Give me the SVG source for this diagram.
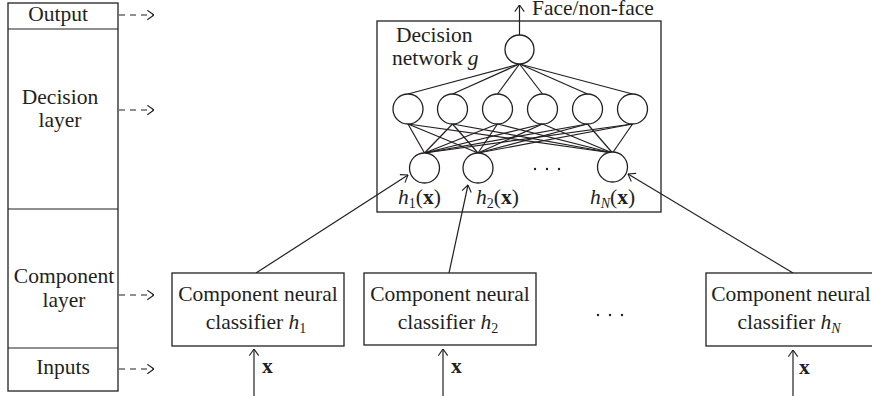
<svg xmlns="http://www.w3.org/2000/svg" width="872" height="396" viewBox="0 0 872 396">
<style>
.ln{stroke:#231f20;stroke-width:1.2;fill:none}
.nd{stroke:#231f20;stroke-width:1.3;fill:#fff}
.bx{stroke:#231f20;stroke-width:1.3;fill:#fff}
.t{font-family:"Liberation Serif","Times New Roman",serif;font-size:21.5px;fill:#231f20}
.m{text-anchor:middle}
.dash{stroke:#231f20;stroke-width:1.2;stroke-dasharray:6 5;fill:none}
.dot{fill:#231f20}
</style>
<defs>
<marker id="ah" markerUnits="userSpaceOnUse" viewBox="0 0 10 14" refX="9.5" refY="7" markerWidth="8" markerHeight="11" orient="auto">
<path d="M1,1 L9.5,7 L1,13" fill="none" stroke="#231f20" stroke-width="1.4" stroke-dasharray="none"/>
</marker>
</defs>
<rect width="872" height="396" fill="#fff"/>

<g id="layers">
<rect class="bx" x="8" y="3" width="110" height="388"/>
<line class="ln" x1="8" y1="29" x2="118" y2="29"/>
<line class="ln" x1="8" y1="209" x2="118" y2="209"/>
<line class="ln" x1="8" y1="348" x2="118" y2="348"/>
<text class="t m" x="58" y="21">Output</text>
<text class="t m" x="60" y="104">Decision</text>
<text class="t m" x="60" y="127">layer</text>
<text class="t m" x="64" y="283">Component</text>
<text class="t m" x="64" y="307">layer</text>
<text class="t m" x="63" y="374">Inputs</text>
</g>

<g id="decision-network">
<rect class="bx" x="377" y="21" width="284" height="191"/>
<text class="t" x="396" y="42">Decision</text>
<text class="t" x="392" y="65">network <tspan font-style="italic">g</tspan></text>
</g>

<g id="connectors">
<line class="dash" x1="119" y1="15" x2="154" y2="15" marker-end="url(#ah)"/>
<line class="dash" x1="119" y1="110" x2="154" y2="110" marker-end="url(#ah)"/>
<line class="dash" x1="119" y1="295" x2="154" y2="295" marker-end="url(#ah)"/>
<line class="dash" x1="119" y1="369" x2="154" y2="369" marker-end="url(#ah)"/>

<line class="ln" x1="519.5" y1="35" x2="519.5" y2="5" marker-end="url(#ah)"/>

<g id="top-edges">
<line class="ln" x1="519.5" y1="64" x2="408" y2="94"/>
<line class="ln" x1="519.5" y1="64" x2="452.5" y2="94"/>
<line class="ln" x1="519.5" y1="64" x2="497.5" y2="94"/>
<line class="ln" x1="519.5" y1="64" x2="542.5" y2="94"/>
<line class="ln" x1="519.5" y1="64" x2="587.5" y2="94"/>
<line class="ln" x1="519.5" y1="64" x2="632.5" y2="94"/>
</g>
<g id="hidden-edges">
<line class="ln" x1="408" y1="124" x2="424.5" y2="153"/>
<line class="ln" x1="408" y1="124" x2="478" y2="153"/>
<line class="ln" x1="408" y1="124" x2="612.5" y2="153"/>
<line class="ln" x1="452.5" y1="124" x2="424.5" y2="153"/>
<line class="ln" x1="452.5" y1="124" x2="478" y2="153"/>
<line class="ln" x1="452.5" y1="124" x2="612.5" y2="153"/>
<line class="ln" x1="497.5" y1="124" x2="424.5" y2="153"/>
<line class="ln" x1="497.5" y1="124" x2="478" y2="153"/>
<line class="ln" x1="497.5" y1="124" x2="612.5" y2="153"/>
<line class="ln" x1="542.5" y1="124" x2="424.5" y2="153"/>
<line class="ln" x1="542.5" y1="124" x2="478" y2="153"/>
<line class="ln" x1="542.5" y1="124" x2="612.5" y2="153"/>
<line class="ln" x1="587.5" y1="124" x2="424.5" y2="153"/>
<line class="ln" x1="587.5" y1="124" x2="478" y2="153"/>
<line class="ln" x1="587.5" y1="124" x2="612.5" y2="153"/>
<line class="ln" x1="632.5" y1="124" x2="424.5" y2="153"/>
<line class="ln" x1="632.5" y1="124" x2="478" y2="153"/>
<line class="ln" x1="632.5" y1="124" x2="612.5" y2="153"/>
</g>

<line class="ln" x1="256" y1="273" x2="408" y2="175" marker-end="url(#ah)"/>
<line class="ln" x1="449" y1="273" x2="468" y2="185" marker-end="url(#ah)"/>
<line class="ln" x1="793" y1="273" x2="628" y2="174" marker-end="url(#ah)"/>

<line class="ln" x1="254" y1="396" x2="254" y2="349" marker-end="url(#ah)"/>
<line class="ln" x1="443" y1="396" x2="443" y2="349" marker-end="url(#ah)"/>
<line class="ln" x1="793" y1="396" x2="793" y2="350" marker-end="url(#ah)"/>
</g>

<g id="output-label">
<text class="t" x="532" y="15">Face/non-face</text>
</g>

<g id="node-out"><circle class="nd" cx="519.5" cy="49.5" r="14.5"/></g>
<g id="node-m1"><circle class="nd" cx="408" cy="109" r="15"/></g>
<g id="node-m2"><circle class="nd" cx="452.5" cy="109" r="15"/></g>
<g id="node-m3"><circle class="nd" cx="497.5" cy="109" r="15"/></g>
<g id="node-m4"><circle class="nd" cx="542.5" cy="109" r="15"/></g>
<g id="node-m5"><circle class="nd" cx="587.5" cy="109" r="15"/></g>
<g id="node-m6"><circle class="nd" cx="632.5" cy="109" r="15"/></g>

<g id="node-h1">
<circle class="nd" cx="424.5" cy="168" r="15"/>
<text class="t" x="398" y="204"><tspan font-style="italic">h</tspan><tspan font-size="14" dy="4">1</tspan><tspan dy="-4">(</tspan><tspan font-weight="bold">x</tspan>)</text>
</g>
<g id="node-h2">
<circle class="nd" cx="478" cy="168" r="15"/>
<text class="t" x="476" y="204"><tspan font-style="italic">h</tspan><tspan font-size="14" dy="4">2</tspan><tspan dy="-4">(</tspan><tspan font-weight="bold">x</tspan>)</text>
</g>
<g id="node-hN">
<circle class="nd" cx="612.5" cy="167" r="15"/>
<text class="t" x="590" y="204"><tspan font-style="italic">h</tspan><tspan font-size="14" font-style="italic" dy="4">N</tspan><tspan dy="-4">(</tspan><tspan font-weight="bold">x</tspan>)</text>
</g>
<g id="net-dots">
<circle class="dot" cx="535" cy="169" r="1.2"/>
<circle class="dot" cx="547" cy="169" r="1.2"/>
<circle class="dot" cx="559" cy="169" r="1.2"/>
</g>

<g id="classifier-1">
<rect class="bx" x="172" y="273" width="172" height="73"/>
<text class="t m" x="258" y="301">Component neural</text>
<text class="t m" x="256" y="329">classifier <tspan font-style="italic">h</tspan><tspan font-size="14" dy="4">1</tspan></text>
</g>
<g id="classifier-2">
<rect class="bx" x="364" y="273" width="172" height="72"/>
<text class="t m" x="450" y="301">Component neural</text>
<text class="t m" x="448" y="329">classifier <tspan font-style="italic">h</tspan><tspan font-size="14" dy="4">2</tspan></text>
</g>
<g id="classifier-N">
<rect class="bx" x="706" y="273" width="172" height="73"/>
<text class="t m" x="791" y="301">Component neural</text>
<text class="t m" x="789" y="329">classifier <tspan font-style="italic">h</tspan><tspan font-size="14" font-style="italic" dy="4">N</tspan></text>
</g>
<g id="box-dots">
<circle class="dot" cx="598" cy="315" r="1.2"/>
<circle class="dot" cx="610" cy="315" r="1.2"/>
<circle class="dot" cx="622" cy="315" r="1.2"/>
</g>

<g id="input-labels">
<text class="t" x="262" y="373" font-weight="bold">x</text>
<text class="t" x="451" y="373" font-weight="bold">x</text>
<text class="t" x="799" y="374" font-weight="bold">x</text>
</g>
</svg>
